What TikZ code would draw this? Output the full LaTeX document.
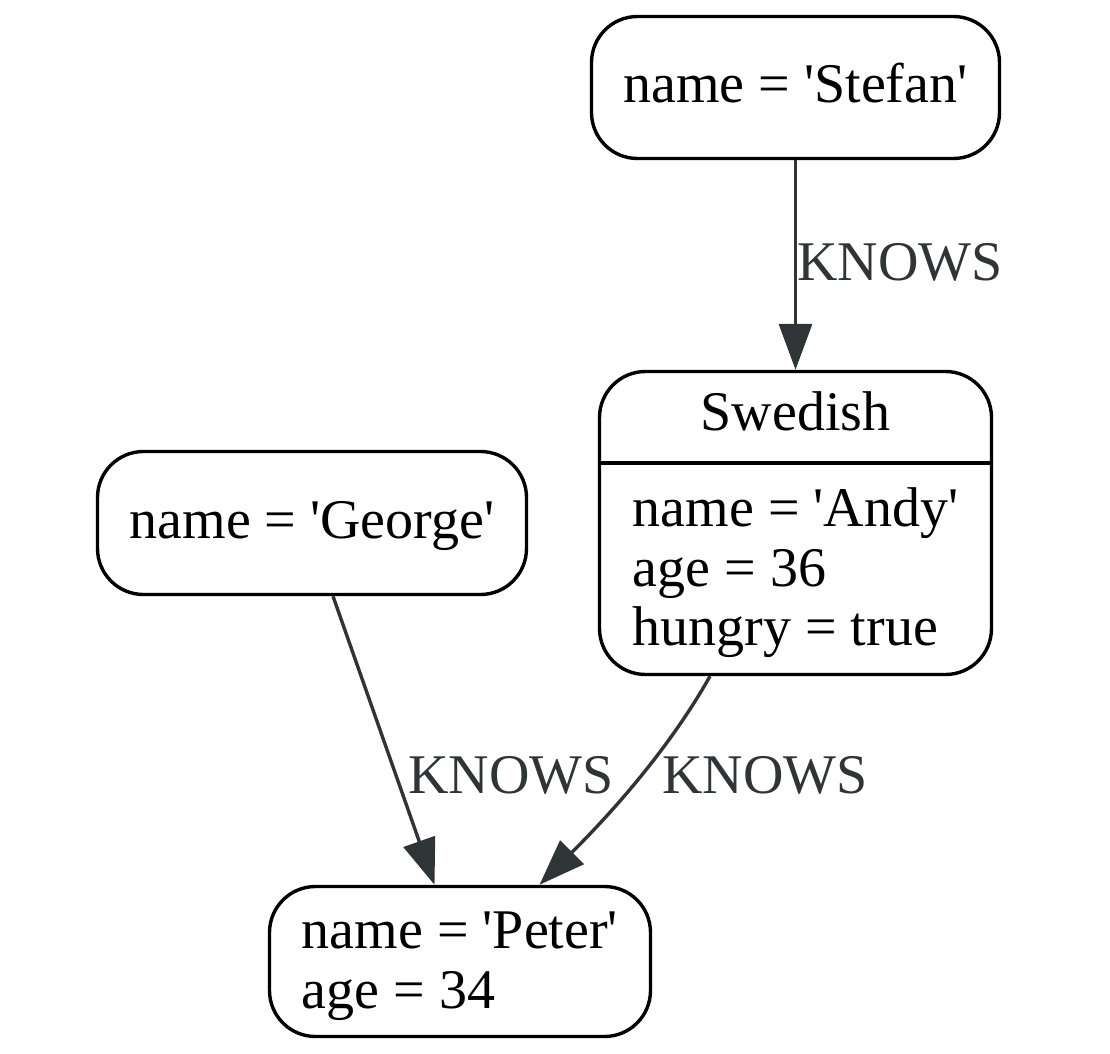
\documentclass[tikz,border=0pt]{standalone}
\usepackage{fontspec}
\setmainfont{Liberation Serif}
\usetikzlibrary{arrows.meta}
\definecolor{aristagris}{RGB}{47,52,55}
\newcommand{\apos}{\textquotesingle}
\begin{document}
\begin{tikzpicture}[
      x=0.5pt, y=-0.5pt,
      every node/.style={font=\fontsize{28}{29.75}\selectfont},
      nodo/.style={draw, line width=1.7pt, rounded corners=23pt, inner sep=0pt},
      arista/.style={draw=aristagris, line width=1.7pt, -{Triangle[length=23pt, width=16.5pt]}},
      etiqueta/.style={text=aristagris, anchor=base west, inner sep=1pt}
    ]
    \useasboundingbox (0,0) rectangle (1110,1054);
    \node[nodo, minimum width=204pt, minimum height=71pt, text height=20pt, text depth=4.5pt] (stefan) at (795.5,87.5) {name = \apos Stefan\apos};
    \node[nodo, minimum width=214.5pt, minimum height=71.5pt, text height=20pt, text depth=4.5pt] (george) at (312,523) {name = \apos George\apos};
    \node[nodo, minimum width=196pt, minimum height=151.5pt] (andy) at (795.5,523) {};
    \node[anchor=base] (swedish) at (795.5,430) {Swedish};
    \coordinate (andysep) at (795.5,463);
    \draw[line width=1.7pt] (andy.west |- andysep) -- (andy.east |- andysep);
    \node[align=left, inner sep=0pt] (andyprops) at (795.5,573) {name = \apos Andy\apos\\age = 36\\hungry = true};
    \node[nodo, align=left, minimum width=190.5pt, minimum height=75pt] (peter) at (460,961.5) {\rule{0pt}{23pt}name = \apos Peter\apos\\age = 34};
    % aristas
    \draw[arista] (stefan) -- (andy);
    \draw[arista] ([shift={(21,0)}]george.south) -- ([shift={(-25.5,0)}]peter.north);
    \draw[arista] ([shift={(-85.5,0)}]andy.south) .. controls +(-45,80) and +(62,-62) .. ([shift={(79.5,0)}]peter.north);
    \node[etiqueta] (knows1) at (795,280) {KNOWS};
    \node[etiqueta] (knows2) at (406,793) {KNOWS};
    \node[etiqueta] (knows3) at (660,793) {KNOWS};
  \end{tikzpicture}
\end{document}
